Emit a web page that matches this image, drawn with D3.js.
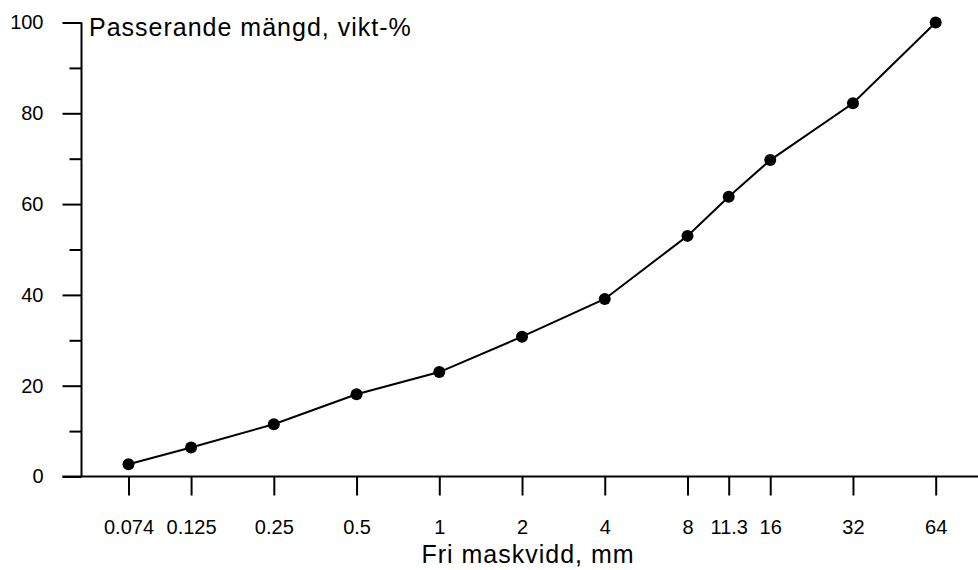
<!DOCTYPE html>
<html>
<head>
<meta charset="utf-8">
<script src="https://cdn.jsdelivr.net/npm/d3@7"></script>
<style>
	body { margin: 0; background: #fff; }
	svg { display: block; }
	text { font-family: "Liberation Sans", Arial, sans-serif; fill: #000; }
</style>
</head>
<body>
<svg id="chart" width="978" height="570"></svg>
<script>
// sieve sizes (mm) and passing percentage
var sieveSizes = [0.074, 0.125, 0.25, 0.5, 1, 2, 4, 8, 11.3, 16, 32, 64];
var sieveLabels = ["0.074", "0.125", "0.25", "0.5", "1", "2", "4", "8", "11.3", "16", "32", "64"];
var passing = [2.7, 6.4, 11.5, 18.1, 23.0, 30.8, 39.1, 53.0, 61.6, 69.7, 82.2, 100];
var yTicks = [0, 20, 40, 60, 80, 100];
var yMinorTicks = [10, 30, 50, 70, 90];

var yTitle = "Passerande mängd, vikt-%";
var xTitle = "Fri maskvidd, mm";

var margin = {top: 22.5, left: 81.5, bottom: 93.5},
	width = 978,
	height = 570;

var x = d3.scaleLog()
	.domain([0.074, 64])
	.range([128.5, 935.7]);
var y = d3.scaleLinear()
	.domain([0, 100])
	.range([height - margin.bottom, margin.top]);

var svg = d3.select("#chart");

// y axis, major and minor ticks
var yAxis = svg.append("g")
	.attr("transform", "translate(" + margin.left + ",0)")
	.call(d3.axisLeft(y).tickValues(yTicks).tickSize(19).tickPadding(19));
yAxis.select(".domain").remove();
yAxis.selectAll("line").attr("stroke-width", 2);
yAxis.selectAll("text").style("font-size", "20px");

var yMinor = svg.append("g")
	.attr("transform", "translate(" + margin.left + ",0)")
	.call(d3.axisLeft(y).tickValues(yMinorTicks).tickSize(12).tickFormat(""));
yMinor.select(".domain").remove();
yMinor.selectAll("line").attr("stroke-width", 2);

// x axis
var xAxis = svg.append("g")
	.attr("transform", "translate(0," + y(0) + ")")
	.call(d3.axisBottom(x)
		.tickValues(sieveSizes)
		.tickFormat(function(d, i) { return sieveLabels[i]; })
		.tickSize(19)
		.tickPadding(24));
xAxis.select(".domain").remove();
xAxis.selectAll("line").attr("stroke-width", 2);
xAxis.selectAll("text").style("font-size", "20px");

// axis lines
svg.append("line")
	.attr("x1", margin.left).attr("x2", margin.left)
	.attr("y1", y(100)).attr("y2", y(0))
	.attr("stroke", "#000").attr("stroke-width", 2);
svg.append("line")
	.attr("x1", margin.left - 19).attr("x2", width)
	.attr("y1", y(0)).attr("y2", y(0))
	.attr("stroke", "#000").attr("stroke-width", 2);

// data line
var points = sieveSizes.map(function(s, i) { return [s, passing[i]]; });
var line = d3.line()
	.x(function(d) { return x(d[0]); })
	.y(function(d) { return y(d[1]); });

svg.append("path")
	.datum(points)
	.attr("fill", "none")
	.attr("stroke", "#000")
	.attr("stroke-width", 2)
	.attr("d", line);

svg.selectAll(".dot")
	.data(points)
	.enter().append("circle")
	.attr("class", "dot")
	.attr("cx", function(d) { return x(d[0]); })
	.attr("cy", function(d) { return y(d[1]); })
	.attr("r", 6)
	.attr("fill", "#000");

// titles
svg.append("text")
	.attr("x", 89)
	.attr("y", 36)
	.style("font-size", "25px")
	.style("letter-spacing", "1px")
	.text(yTitle);

svg.append("text")
	.attr("x", 528)
	.attr("y", 563)
	.style("text-anchor", "middle")
	.style("font-size", "25px")
	.style("letter-spacing", "1px")
	.text(xTitle);
</script>
</body>
</html>
